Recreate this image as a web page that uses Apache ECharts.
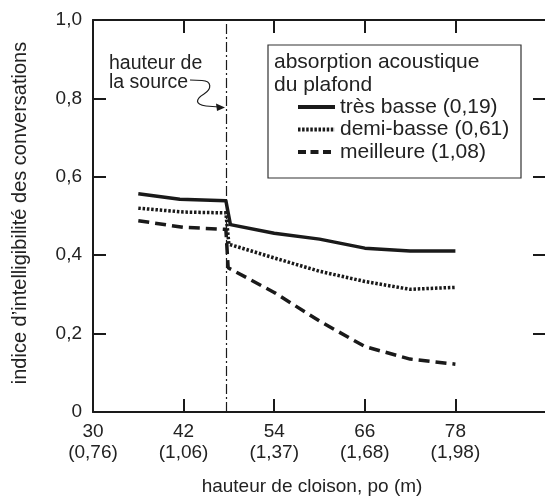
<!DOCTYPE html>
<html>
<head>
<meta charset="utf-8">
<script src="https://cdn.jsdelivr.net/npm/echarts@6/dist/echarts.min.js"></script>
<style>
html,body{margin:0;padding:0;background:#fff;}
#c{width:545px;height:497px;}
</style>
</head>
<body>
<div id="c"></div>
<script>
// ---- data ----
const seriesNames = ['très basse (0,19)', 'demi-basse (0,61)', 'meilleure (1,08)'];
const solidX  = [36, 41.5, 47.6, 48.2, 54, 60, 66, 72, 78];
const solidY  = [0.557, 0.543, 0.539, 0.478, 0.456, 0.441, 0.418, 0.411, 0.411];
const dottedX = [36, 42, 47.6, 48.0, 54, 60, 66, 72, 78];
const dottedY = [0.520, 0.510, 0.508, 0.428, 0.393, 0.359, 0.333, 0.313, 0.318];
const dashedX = [36, 42, 47.6, 47.9, 54, 60, 66, 72, 78];
const dashedY = [0.488, 0.471, 0.466, 0.368, 0.305, 0.232, 0.167, 0.135, 0.122];
const sourceHeight = 47.7;
const xTickValues = [30, 42, 54, 66, 78];
const xTickLabels = ['30\n(0,76)', '42\n(1,06)', '54\n(1,37)', '66\n(1,68)', '78\n(1,98)'];
const yTickValues = [0, 0.2, 0.4, 0.6, 0.8, 1.0];
const yTickLabels = ['0', '0,2', '0,4', '0,6', '0,8', '1,0'];
const xAxisTitle = 'hauteur de cloison, po (m)';
const yAxisTitle = 'indice d\u2019intelligibilité des conversations';
const legendTitle = ['absorption acoustique', 'du plafond'];
const annotation = ['hauteur de', 'la source'];

// ---- chart ----
const FONT = '"Liberation Sans", Arial, Helvetica, sans-serif';
const INK = '#1a1a1a';
const TXT = '#222';
function pairs(xs, ys) { return xs.map((x, i) => [x, ys[i]]); }
function xLabel(v) { const i = xTickValues.indexOf(Math.round(v)); return i >= 0 ? xTickLabels[i] : ''; }
function yLabel(v) { const i = yTickValues.findIndex(t => Math.abs(t - v) < 1e-6); return i >= 0 ? yTickLabels[i] : ''; }

const chart = echarts.init(document.getElementById('c'), null, {renderer: 'canvas'});
const axisLine = {show: true, onZero: false, lineStyle: {color: INK, width: 2}};
const tick = {show: true, inside: true, length: 13, lineStyle: {color: INK, width: 2}};
const arrowStyle = {fill: 'none', stroke: INK, lineWidth: 1.2};
const noSymbol = {color: 'rgba(0,0,0,0)', borderColor: 'rgba(0,0,0,0)', borderWidth: 0};
const lineTypes = ['solid', [2.5, 1.8], [11, 6]];
const legendLineTypes = ['solid', [2.5, 1.6], [8, 4.5]];

chart.setOption({
  animation: false,
  backgroundColor: '#fff',
  textStyle: {fontFamily: FONT},
  grid: {left: 93, top: 20, width: 453, height: 392, containLabel: false, outerBoundsMode: 'none'},
  xAxis: [{
    type: 'value', min: 30, max: 90, interval: 12, position: 'bottom',
    axisLine: axisLine, axisTick: tick, splitLine: {show: false},
    axisLabel: {formatter: xLabel, color: TXT, fontSize: 19, fontFamily: FONT, lineHeight: 21, margin: 9, showMaxLabel: false},
    name: xAxisTitle, nameLocation: 'middle', nameGap: 65,
    nameTextStyle: {fontSize: 19, color: TXT, fontFamily: FONT, padding: [0, 15, 0, 0]}
  }, {
    type: 'value', min: 30, max: 90, interval: 12, position: 'top',
    axisLine: axisLine, axisTick: tick, axisLabel: {show: false}, splitLine: {show: false}
  }],
  yAxis: [{
    type: 'value', min: 0, max: 1, interval: 0.2, position: 'left',
    axisLine: axisLine, axisTick: tick, splitLine: {show: false},
    axisLabel: {formatter: yLabel, color: TXT, fontSize: 19, fontFamily: FONT, margin: 11},
    name: yAxisTitle, nameLocation: 'middle', nameGap: 63, nameRotate: 90,
    nameTextStyle: {fontSize: 20, color: TXT, fontFamily: FONT, padding: [0, 0, 0, 6]}
  }, {
    type: 'value', min: 0, max: 1, interval: 0.2, position: 'right',
    axisLine: axisLine, axisTick: tick, axisLabel: {show: false}, splitLine: {show: false}
  }],
  legend: {
    orient: 'vertical', left: 291, top: 91,
    itemWidth: 37, itemHeight: 14, itemGap: 0.5,
    data: seriesNames.map((n, i) => ({
      name: n, itemStyle: noSymbol,
      lineStyle: {color: INK, width: 4, type: legendLineTypes[i], cap: 'butt'}
    })),
    itemStyle: noSymbol,
    textStyle: {fontSize: 21, color: TXT, fontFamily: FONT, lineHeight: 22},
    selectedMode: false
  },
  series: [{
    name: seriesNames[0], type: 'line', data: pairs(solidX, solidY),
    symbol: 'none', lineStyle: {color: INK, width: 3.5, type: lineTypes[0], join: 'round'},
    itemStyle: noSymbol,
    markLine: {
      silent: true, symbol: ['none', 'none'], label: {show: false},
      lineStyle: {color: INK, width: 1.2, type: [10, 3, 2, 3]},
      data: [{xAxis: sourceHeight}]
    }
  }, {
    name: seriesNames[1], type: 'line', data: pairs(dottedX, dottedY),
    symbol: 'none', lineStyle: {color: INK, width: 3.5, type: lineTypes[1], cap: 'butt'},
    itemStyle: noSymbol
  }, {
    name: seriesNames[2], type: 'line', data: pairs(dashedX, dashedY),
    symbol: 'none', lineStyle: {color: INK, width: 3.5, type: lineTypes[2], cap: 'butt'},
    itemStyle: noSymbol
  }],
  graphic: [
    {type: 'rect', shape: {x: 268, y: 45, width: 253, height: 133}, style: {fill: 'rgba(0,0,0,0)', stroke: '#333', lineWidth: 1.2}, z: 50},
    {type: 'text', x: 274, y: 51, style: {text: legendTitle.join('\n'), font: '21px ' + FONT, fill: TXT, lineHeight: 23}, z: 51},
    {type: 'text', x: 109, y: 54, style: {text: annotation.join('\n'), font: '19.5px ' + FONT, fill: TXT, lineHeight: 19}, z: 51},
    {type: 'line', shape: {x1: 190, y1: 80, x2: 202, y2: 80.5}, style: arrowStyle, z: 51},
    {type: 'bezierCurve', shape: {x1: 202, y1: 80.5, cpx1: 212, cpy1: 81, cpx2: 212, cpy2: 89, x2: 204, y2: 94}, style: arrowStyle, z: 51},
    {type: 'bezierCurve', shape: {x1: 204, y1: 94, cpx1: 196, cpy1: 99, cpx2: 194, cpy2: 104, x2: 206, y2: 106}, style: arrowStyle, z: 51},
    {type: 'line', shape: {x1: 206, y1: 106, x2: 219, y2: 107}, style: arrowStyle, z: 51},
    {type: 'polygon', shape: {points: [[225, 107.5], [216, 103.5], [217, 111]]}, style: {fill: INK}, z: 51}
  ]
});
</script>
</body>
</html>
